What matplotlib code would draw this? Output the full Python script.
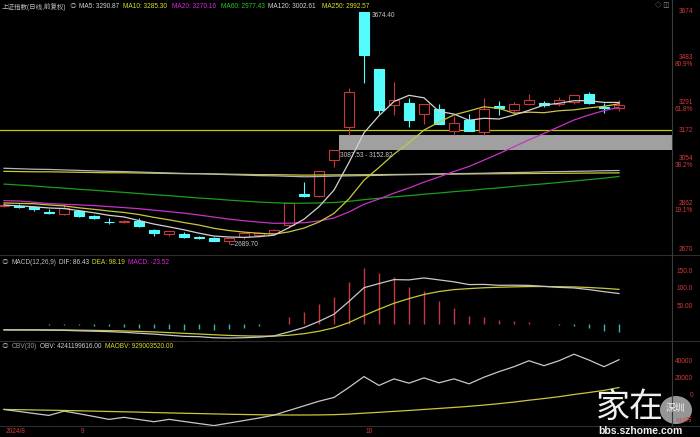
import matplotlib
matplotlib.use('Agg')
import matplotlib.pyplot as plt
import matplotlib.transforms as mtransforms
from matplotlib.patches import Rectangle, Ellipse
import pandas as pd

plt.rcParams['font.family'] = ['Liberation Sans', 'Noto Sans CJK SC', 'DejaVu Sans']

# ---------------- data ----------------
dates = ['08-26', '08-27', '08-28', '08-29', '08-30', '09-02', '09-03', '09-04', '09-05', '09-06',
         '09-09', '09-10', '09-11', '09-12', '09-13', '09-18', '09-19', '09-20', '09-23', '09-24',
         '09-25', '09-26', '09-27', '09-30', '10-08', '10-09', '10-10', '10-11', '10-14', '10-15',
         '10-16', '10-17', '10-18', '10-21', '10-22', '10-23', '10-24', '10-25', '10-28', '10-29',
         '10-30', '10-31']
opens = [2853.1, 2853.1, 2846.0, 2827.0, 2817.0, 2830.0, 2809.5, 2786.0, 2785.5, 2790.0,
         2750.0, 2733.0, 2734.0, 2721.0, 2718.0, 2702.0, 2719.0, 2729.5, 2738.0, 2770.75,
         2901.4, 2893.0, 3049.0, 3188.0, 3674.40, 3433.0, 3279.0, 3290.0, 3240.0, 3262.0,
         3170.0, 3217.0, 3164.0, 3276.0, 3259.0, 3283.0, 3287.0, 3283.0, 3294.0, 3326.0,
         3273.0, 3266.0]
highs = [2865.0, 2858.6, 2852.0, 2838.0, 2861.0, 2837.0, 2816.0, 2800.0, 2792.0, 2800.0,
         2755.0, 2748.0, 2740.0, 2727.0, 2722.0, 2718.0, 2740.0, 2744.0, 2755.0, 2863.13,
         2952.5, 3000.95, 3087.53, 3351.0, 3674.40, 3433.0, 3379.0, 3310.0, 3285.0, 3283.0,
         3233.0, 3241.0, 3308.0, 3297.0, 3291.0, 3327.0, 3298.0, 3312.0, 3323.0, 3336.0,
         3288.0, 3302.0]
lows = [2848.5, 2844.1, 2833.1, 2818.8, 2815.0, 2805.0, 2795.0, 2775.0, 2780.0, 2764.0,
        2726.0, 2724.0, 2718.0, 2711.0, 2702.0, 2689.70, 2714.0, 2725.0, 2731.0, 2762.0,
        2889.0, 2889.0, 3017.0, 3152.82, 3372.0, 3240.0, 3238.0, 3188.0, 3200.0, 3200.0,
        3152.0, 3168.0, 3152.0, 3238.0, 3248.0, 3280.0, 3272.0, 3276.0, 3283.0, 3284.0,
        3245.0, 3255.0]
closes = [2855.52, 2848.77, 2837.43, 2823.11, 2842.21, 2811.04, 2802.98, 2784.28, 2788.31, 2765.81,
          2736.49, 2744.19, 2721.80, 2717.12, 2704.09, 2717.28, 2736.02, 2736.81, 2748.92, 2863.13,
          2896.31, 3000.95, 3087.53, 3336.50, 3489.78, 3258.86, 3301.93, 3217.74, 3284.32, 3201.29,
          3202.95, 3169.38, 3261.56, 3268.11, 3285.87, 3302.80, 3280.26, 3299.70, 3322.20, 3286.41,
          3266.24, 3279.82]
# closes of the 19 sessions before the first shown day (for MA5/10/20)
prior_closes = [2879.30, 2938.75, 2932.39, 2905.34, 2860.70, 2867.28, 2869.90, 2869.83, 2862.19, 2858.20,
                2867.95, 2850.65, 2877.36, 2879.43, 2893.67, 2866.66, 2856.58, 2848.57, 2854.37]

ma60 = [2945, 2941, 2937, 2932, 2928, 2923, 2919, 2914, 2910, 2905,
        2900, 2896, 2891, 2886, 2882, 2877, 2873, 2869, 2866, 2864,
        2864, 2865, 2867, 2872, 2879, 2885, 2891, 2896, 2902, 2907,
        2913, 2918, 2924, 2929, 2935, 2941, 2946, 2952, 2958, 2964,
        2970, 2977.43]
ma120 = [3012, 3010, 3008, 3007, 3005, 3003, 3001, 2999, 2998, 2996,
         2994, 2992, 2990, 2989, 2987, 2985, 2983, 2981, 2980, 2978,
         2976, 2977, 2979, 2980, 2981, 2982, 2984, 2985, 2986, 2988,
         2989, 2990, 2991, 2993, 2994, 2995, 2997, 2998, 2999, 3000,
         3001.6, 3002.61]
ma250 = [2999, 2998, 2997, 2997, 2996, 2995, 2994, 2993, 2993, 2992,
         2991, 2990, 2989, 2989, 2988, 2987, 2986, 2985, 2985, 2984,
         2983, 2983.5, 2984, 2984.4, 2984.8, 2985.3, 2985.7, 2986.2, 2986.6, 2987.1,
         2987.6, 2988, 2988.5, 2988.9, 2989.4, 2989.8, 2990.3, 2990.7, 2991.2, 2991.7,
         2992.1, 2992.57]

dif = [-16.8, -16.9, -17.0, -17.5, -17.9, -19.3, -20.4, -21.6, -23.4, -26.1,
       -28.6, -31.8, -34.9, -35.8, -38.9, -39.8, -38.8, -37.2, -33.7, -22.3,
       -9.9, 7.5, 27.7, 64.2, 102.9, 114.5, 125.8, 125.0, 130.5, 125.0,
       119.5, 111.7, 112.2, 109.6, 110.0, 109.4, 106.7, 103.8, 102.2, 97.5,
       91.6, 86.43]
dea = [-16.3, -16.4, -16.5, -16.7, -16.9, -17.4, -18.0, -18.7, -19.6, -20.9,
       -22.4, -24.3, -26.4, -28.3, -30.4, -32.3, -33.6, -34.3, -34.2, -31.8,
       -27.4, -20.4, -10.8, 4.2, 23.9, 42.0, 58.8, 72.0, 83.7, 92.0,
       97.5, 100.3, 102.7, 104.1, 105.3, 106.1, 106.2, 105.7, 105.0, 103.5,
       101.1, 98.19]
macd_hist = [-1.0, -1.0, -1.0, -1.5, -2.0, -3.8, -4.7, -5.7, -7.5, -10.4,
             -12.3, -15.0, -17.0, -15.0, -17.0, -15.0, -10.4, -5.7, 1.0, 19.0,
             35.0, 55.7, 77.0, 120.0, 158.0, 145.0, 134.0, 106.0, 93.5, 66.0,
             44.0, 22.7, 19.0, 11.0, 9.4, 6.6, 1.0, -3.8, -5.7, -12.0,
             -19.0, -23.52]

obv = [-16800, -19200, -21600, -23900, -18800, -21900, -25200, -28600, -26200, -28800,
       -31400, -28600, -31100, -33600, -36000, -33000, -30000, -27000, -23500, -18000,
       -12500, -7000, -2500, 9500, 22350, 11800, 19600, 14500, 20800, 14900,
       19600, 13700, 21600, 28200, 34100, 41200, 35300, 41200, 49000, 42000,
       34100, 42412]
maobv = [-16800, -17100, -17400, -17700, -18000, -18400, -18800, -19200, -19600, -20000,
         -20500, -20900, -21300, -21700, -22100, -22500, -22800, -23100, -23300, -23400,
         -23400, -23300, -23000, -22300, -21200, -20200, -19100, -18000, -16800, -15600,
         -14400, -13100, -11600, -9900, -8000, -5800, -3800, -1600, 1000, 3400,
         5900, 9290]

price_ticks = [3674, 3483, 3291, 3172, 3054, 2862, 2670]
price_pcts = ['', '80.9%', '61.8%', '', '38.2%', '19.1%', '']
macd_ticks = [150, 100, 50]
macd_tick_labels = ['150.0', '100.0', '50.00']
obv_ticks = [40000, 20000, 0]
obv_tick_labels = ['40000', '20000', '0']
month_pos = [0, 5, 24]
month_labels = ['2024/8', '9', '10']
gap_low, gap_high = 3087.53, 3152.82
half_line = 3172
peak_label, low_label = '3674.40', '2689.70'

# ---------------- style ----------------
BG = '#000000'
RED = '#c8373c'
CYAN = '#54fcfc'
TXT_RED = '#d23c3c'
W, H = 700, 437
PR = 672  # right edge of plot area in px
FS = 4.7


def fy(py):
    return 1 - py / H


fig = plt.figure(figsize=(7, 4.37), dpi=100, facecolor=BG)
ax = fig.add_axes([0, fy(255), PR / W, 255 / H])
axm = fig.add_axes([0, fy(341), PR / W, 86 / H])
axo = fig.add_axes([0, fy(426), PR / W, 85 / H])

xs = list(range(len(closes)))
xlim = (-4 / 15, (PR - 4) / 15)
for a in (ax, axm, axo):
    a.set_facecolor(BG)
    a.set_xlim(*xlim)
    a.set_xticks([])
    a.set_yticks([])
    for s in a.spines.values():
        s.set_visible(False)

ax.set_ylim(2644.6, 3724.8)
axm.set_ylim(-48.1, 195.5)
axo.set_ylim(-36500, 64700)

# ---------------- candles ----------------
bw = 0.7
for i in xs:
    o, h, l, c = opens[i], highs[i], lows[i], closes[i]
    up = c >= o
    col = RED if up else CYAN
    top, bot = max(o, c), min(o, c)
    body = max(top - bot, 2.0)
    ax.vlines(i, top, h, color=col, lw=0.8, zorder=2)
    ax.vlines(i, l, bot, color=col, lw=0.8, zorder=2)
    ax.add_patch(Rectangle((i - bw / 2, bot), bw, body,
                           facecolor=BG if up else CYAN, edgecolor=col, lw=0.8, zorder=2.5))

s = pd.Series(prior_closes + closes)
n0 = len(prior_closes)
ma5 = s.rolling(5).mean().iloc[n0:].values
ma10 = s.rolling(10).mean().iloc[n0:].values
ma20 = s.rolling(20).mean().iloc[n0:].values

ax.plot(xs, ma250, color='#c8c83c', lw=0.9, zorder=3)
ax.plot(xs, ma120, color='#b4b4b4', lw=0.9, zorder=3)
ax.plot(xs, ma60, color='#19a019', lw=0.9, zorder=3)
ax.plot(xs, ma20, color='#c832c8', lw=0.9, zorder=3)
ax.plot(xs, ma10, color='#c8c83c', lw=0.9, zorder=3)
ax.plot(xs, ma5, color='#d2d2d2', lw=0.9, zorder=3)

# gap box and 50% line
ax.add_patch(Rectangle((22 + bw / 2 - 0.02, gap_low), xlim[1] - 22.33, gap_high - gap_low,
                       facecolor='#a0a0a0', edgecolor='none', zorder=1.5))
ax.axhline(half_line, color='#c8c800', lw=0.9, zorder=1.6)

ax.text(24.55, 3661, peak_label, color='#c8c8c8', fontsize=FS, va='center', ha='left')
ax.text(15.0, 2687, '\u2190' + low_label, color='#c8c8c8', fontsize=FS, va='center', ha='left')
ax.text(22.4, 3068, f'{gap_low:.2f} - {gap_high:.2f}', color='#c8c8c8', fontsize=FS,
        va='center', ha='left')

# ---------------- MACD ----------------
for i in xs:
    v = macd_hist[i]
    axm.vlines(i, 0, v, color=RED if v >= 0 else '#3cb4b4', lw=1.0)
axm.plot(xs, dea, color='#c8c83c', lw=0.9)
axm.plot(xs, dif, color='#c8c8c8', lw=0.9)

# ---------------- OBV ----------------
axo.plot(xs, maobv, color='#c8c83c', lw=0.9)
axo.plot(xs, obv, color='#c8c8c8', lw=0.9)

# ---------------- frame lines ----------------
for py in (255, 341, 426):
    fig.add_artist(plt.Line2D([0, 1], [fy(py), fy(py)], color='#2e2e2e', lw=0.8))
fig.add_artist(plt.Line2D([PR / W, PR / W], [fy(426), 1], color='#3c3c3c', lw=0.8))

# ---------------- right-hand labels ----------------
xr = 693 / W


def right_labels(a, vals, labels, pcts=None):
    tr = mtransforms.blended_transform_factory(fig.transFigure, a.transData)
    trp = mtransforms.offset_copy(tr, fig=fig, y=-7, units='dots')
    for k, (v, lab) in enumerate(zip(vals, labels)):
        fig.text(xr, v, lab, transform=tr, color=TXT_RED, fontsize=FS, ha='right', va='center')
        if pcts and pcts[k]:
            fig.text(xr, v, pcts[k], transform=trp, color=TXT_RED, fontsize=FS,
                     ha='right', va='center')


right_labels(ax, price_ticks, [str(v) for v in price_ticks], price_pcts)
right_labels(axm, macd_ticks, macd_tick_labels)
right_labels(axo, obv_ticks, obv_tick_labels)
fig.text(693 / W, fy(420), 'X10万', color=TXT_RED, fontsize=4.3, ha='right', va='center')

# month labels
trd = mtransforms.blended_transform_factory(axo.transData, fig.transFigure)
for p, lab in zip(month_pos, month_labels):
    fig.text(p + 0.1, fy(431.5), lab, transform=trd, color=TXT_RED, fontsize=FS,
             ha='left', va='center')

# ---------------- legends ----------------
fig.canvas.draw()
renderer = fig.canvas.get_renderer()


def legend_row(py, items, gap=3):
    xend = None
    for px, txt, col, fs in items:
        xx = px if xend is None else max(px, xend + gap)
        t = fig.text(xx / W, fy(py), txt, color=col, fontsize=fs, ha='left', va='center')
        xend = t.get_window_extent(renderer=renderer).x1


legend_row(7, [
    (2, '上证指数(日线,前复权)', '#bebebe', 4.7),
    (68, '◎', '#9a9a9a', FS),
    (77, f'MA5: {ma5[-1]:.2f}', '#d2d2d2', FS),
    (123, f'MA10: {ma10[-1]:.2f}', '#dcdc28', FS),
    (172, f'MA20: {ma20[-1]:.2f}', '#dc28dc', FS),
    (221, f'MA60: {ma60[-1]:.2f}', '#28c828', FS),
    (268, f'MA120: {ma120[-1]:.2f}', '#d2d2d2', FS),
    (322, f'MA250: {ma250[-1]:.2f}', '#dcdc28', FS),
])
legend_row(262, [
    (2, '◎', '#9a9a9a', FS),
    (10, 'MACD(12,26,9)', '#bebebe', FS),
    (58, f'DIF: {dif[-1]:.2f}', '#d2d2d2', FS),
    (90, f'DEA: {dea[-1]:.2f}', '#dcdc28', FS),
    (127, f'MACD: {macd_hist[-1]:.2f}', '#dc28dc', FS),
])
legend_row(346, [
    (2, '◎', '#9a9a9a', FS),
    (9, 'OBV(30)', '#9a9a9a', FS),
    (37, 'OBV: 4241199616.00', '#d2d2d2', FS),
    (105, 'MAOBV: 929003520.00', '#dcdc28', FS),
])
fig.text(655 / W, fy(6), '◇ ◫', color='#9a9a9a', fontsize=FS, ha='left', va='center')

# ---------------- watermark ----------------
fig.text(596 / W, fy(407), '家在', color='#f0f0f0', fontsize=24.5, ha='left', va='center',
         family=['Noto Sans CJK SC'])
fig.add_artist(Ellipse((676 / W, fy(410)), 32 / W, 28 / H, transform=fig.transFigure,
                       facecolor='#bdbdbd', edgecolor='none', alpha=0.8))
fig.text(675 / W, fy(408), '深圳', color='#f4f4f4', fontsize=7, ha='center', va='center',
         family=['Noto Sans CJK SC'])
fig.text(598 / W, fy(431), 'bbs.szhome.com', color='#f0f0f0', fontsize=7.5, ha='left',
         va='center', weight='bold')

fig.savefig('out.png', dpi=100, facecolor=BG)
